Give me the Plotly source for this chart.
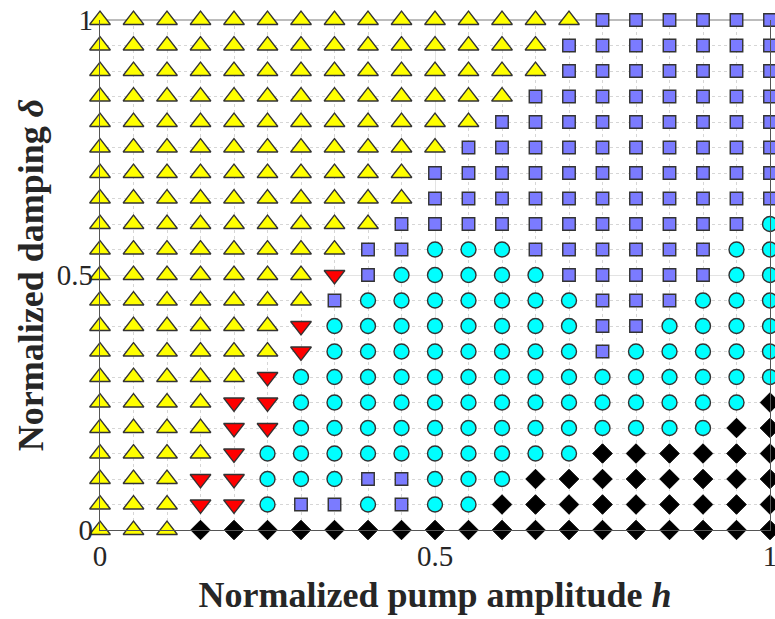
import plotly.graph_objects as go

# Normalized pump amplitude h (columns) and normalized damping delta (rows)
h_values = [round(0.05 * i, 2) for i in range(21)]
delta_values = [round(0.05 * j, 2) for j in range(21)]

# Regime of every grid cell, one string per delta row (top row = delta 1).
# T: yellow up-triangle, R: red down-triangle, C: cyan circle,
# S: blue square, D: black diamond
regime_rows = [
    "TTTTTTTTTTTTTTTSSSSSS",  # 1.00
    "TTTTTTTTTTTTTTSSSSSSS",  # 0.95
    "TTTTTTTTTTTTTTSSSSSSS",  # 0.90
    "TTTTTTTTTTTTTSSSSSSSS",  # 0.85
    "TTTTTTTTTTTTSSSSSSSSS",  # 0.80
    "TTTTTTTTTTTSSSSSSSSSS",  # 0.75
    "TTTTTTTTTTSSSSSSSSSSS",  # 0.70
    "TTTTTTTTTTSSSSSSSSSSS",  # 0.65
    "TTTTTTTTTSSSSSSSSSSSC",  # 0.60
    "TTTTTTTTSSCCCSSSSSSCC",  # 0.55
    "TTTTTTTRSCCCCCSSSSSCC",  # 0.50
    "TTTTTTTSCCCCCCCSSSCCC",  # 0.45
    "TTTTTTRCCCCCCCCSSCCCC",  # 0.40
    "TTTTTTRCCCCCCCCSCCCCC",  # 0.35
    "TTTTTRCCCCCCCCCCCCCCC",  # 0.30
    "TTTTRRCCCCCCCCCCCCCCD",  # 0.25
    "TTTTRRCCCCCCCCCCCCCDD",  # 0.20
    "TTTTRCCCCCCCCCCDDDDDD",  # 0.15
    "TTTRRCCCSSCCCDDDDDDDD",  # 0.10
    "TTTRRCSSCSCCDDDDDDDDD",  # 0.05
    "TTTDDDDDDDDDDDDDDDDDD",  # 0.00
]

styles = {
    "T": dict(symbol="triangle-up", size=18, color="#ffff00", line=dict(color="#333333", width=1.3)),
    "R": dict(symbol="triangle-down", size=18, color="#ff0000", line=dict(color="#333333", width=1.3)),
    "C": dict(symbol="circle", size=15, color="#00ffff", line=dict(color="#333333", width=1.4)),
    "S": dict(symbol="square", size=12.5, color="#7b7bff", line=dict(color="#333333", width=1.4)),
    "D": dict(symbol="diamond", size=15, color="#000000", line=dict(color="#000000", width=1)),
}

fig = go.Figure()
n = len(delta_values)
for code, st in styles.items():
    xs, ys = [], []
    for r, row in enumerate(regime_rows):
        d = delta_values[n - 1 - r]
        for c, ch in enumerate(row):
            if ch == code:
                xs.append(h_values[c])
                ys.append(d)
    fig.add_trace(go.Scatter(x=xs, y=ys, mode="markers", marker=st,
                             cliponaxis=False, showlegend=False, hoverinfo="skip"))

tick_font = dict(family="Liberation Serif", size=29, color="#262626")
title_font = dict(family="Liberation Serif", size=36, color="#262626")

common = dict(
    range=[0, 1], tickvals=[0, 0.5, 1], ticktext=["0", "0.5", "1"],
    showgrid=True, gridcolor="#e3e3e3", gridwidth=1.2,
    minor=dict(dtick=0.05, tick0=0, showgrid=True, gridcolor="#d6d6d6", griddash="dot", gridwidth=1),
    zeroline=False, ticks="", tickfont=tick_font, ticklabeloverflow="allow",
    showline=True, linecolor="#555555", linewidth=1.3, automargin=False,
)

fig.update_layout(
    width=775, height=619,
    margin=dict(l=100, r=5, t=20, b=89),
    paper_bgcolor="white", plot_bgcolor="white",
    xaxis=dict(**common, title=dict(text="<b>Normalized pump amplitude <i>h</i></b>",
                                     font=title_font, standoff=10)),
    yaxis=dict(**common, mirror=True,
               title=dict(text="<b>Normalized damping <i>δ</i></b>", font=title_font, standoff=2)),
    shapes=[dict(type="line", xref="paper", yref="paper", x0=0, x1=1, y0=1, y1=1,
                 line=dict(color="#a6a6a6", width=1.6), layer="below")],
)

fig.write_html("out.html")
